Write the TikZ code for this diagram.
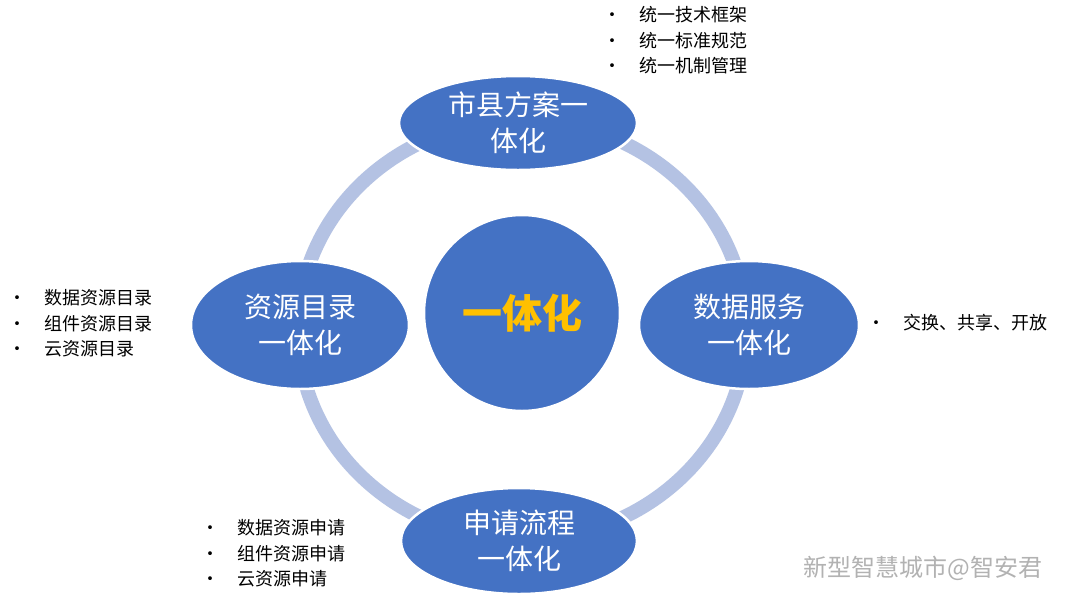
\documentclass[tikz,border=0pt]{standalone}
\usepackage{fontspec}
\usetikzlibrary{shapes.geometric}
\setmainfont{Noto Sans CJK SC}
\begin{document}
\begin{tikzpicture}[x=1pt,y=-1pt,
  blob/.style={ellipse,fill=blue1,draw=white,line width=2.5pt,text=white,font=\fontsize{28}{36}\selectfont,align=center,inner sep=0pt},
  bl/.style={anchor=north west,font=\fontsize{18}{25.5}\selectfont,align=left}]
\definecolor{blue1}{HTML}{4472C4}
\definecolor{ringc}{HTML}{B4C2E3}
\useasboundingbox (0,0) rectangle (1080,614);
\fill[white] (0,0) rectangle (1080,614);
\draw[ringc,line width=14pt] (522,330) ellipse (224 and 210);
\node[shape=circle,fill=blue1,draw=white,line width=2.5pt,minimum size=196pt,font=\bfseries\fontsize{40}{44}\selectfont,text={rgb,255:red,255;green,192;blue,0}] (c) at (522,313) {一体化};
\node[blob,minimum width=238pt,minimum height=94pt] (t) at (518,123) {市县方案一\\体化};
\node[blob,minimum width=218pt,minimum height=128pt] (l) at (300,325) {资源目录\\一体化};
\node[blob,minimum width=220pt,minimum height=128pt] (r) at (749,325) {数据服务\\一体化};
\node[blob,minimum width=236pt,minimum height=106pt] (b) at (519,541) {申请流程\\一体化};
\node[bl] (tb) at (600,3) {•\quad 统一技术框架\\•\quad 统一标准规范\\•\quad 统一机制管理};
\node[bl] (lb) at (5,286) {•\quad 数据资源目录\\•\quad 组件资源目录\\•\quad 云资源目录};
\node[bl] (rb) at (864,311) {•\quad 交换、共享、开放};
\node[bl] (bb) at (198,516) {•\quad 数据资源申请\\•\quad 组件资源申请\\•\quad 云资源申请};
\node[anchor=west,font=\fontsize{24}{28}\selectfont,text=black!30] (wm) at (800,568) {新型智慧城市@智安君};
\end{tikzpicture}
\end{document}
